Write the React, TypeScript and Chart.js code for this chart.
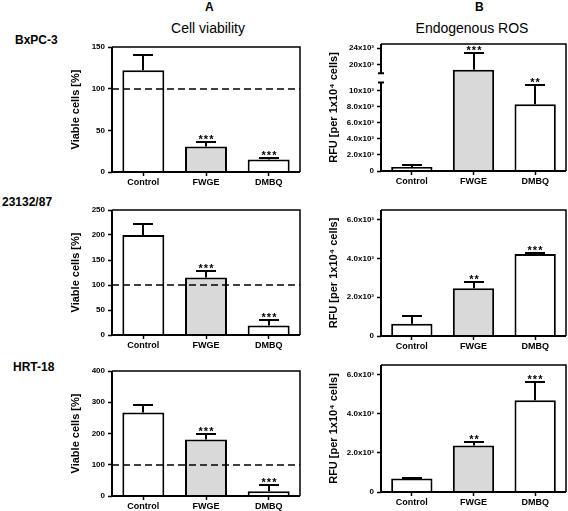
import React, { useEffect, useRef } from "react";
import { Chart, registerables, LinearScale } from "chart.js";

Chart.register(...registerables);

// ---------- data ----------
const CATEGORIES = ["Control", "FWGE", "DMBQ"];
const BAR_FILLS = ["#ffffff", "#d9d9d9", "#ffffff"];

// Column A: cell viability [%]
const VIAB_BXPC3 = [122, 30.5, 15];
const VIAB_BXPC3_ERR = [18, 5.5, 1.5];
const VIAB_23132 = [200, 115, 19];
const VIAB_23132_ERR = [22, 13, 11];
const VIAB_HRT18 = [267, 181, 15];
const VIAB_HRT18_ERR = [24, 19, 19];
const VIAB_STARS = ["", "***", "***"];
const VIAB_TICKS_BXPC3 = [0, 50, 100, 150];
const VIAB_TICKS_23132 = [0, 50, 100, 150, 200, 250];
const VIAB_TICKS_HRT18 = [0, 100, 200, 300, 400];
const VIAB_REFERENCE = 100;

// Column B: endogenous ROS [RFU per 1x10^4 cells]
const ROS_BXPC3 = [500, 18800, 8300];
const ROS_BXPC3_ERR = [200, 4150, 2400];
const ROS_BXPC3_STARS = ["", "***", "**"];
const ROS_23132 = [630, 2460, 4225];
const ROS_23132_ERR = [420, 350, 65];
const ROS_23132_STARS = ["", "**", "***"];
const ROS_HRT18 = [690, 2380, 4700];
const ROS_HRT18_ERR = [30, 185, 910];
const ROS_HRT18_STARS = ["", "**", "***"];

const ROS_TICKS_BROKEN = [0, 2000, 4000, 6000, 8000, 10000, 20000, 24000];
const ROS_TICK_LABELS_BROKEN = ["0", "2.0x10³", "4.0x10³", "6.0x10³", "8.0x10³", "10x10³", "20x10³", "24x10³"];
const ROS_TICKS = [0, 2000, 4000, 6000];
const ROS_TICK_LABELS = ["0", "2.0x10³", "4.0x10³", "6.0x10³"];

// broken axis (top right panel)
const BREAK_LOW = 11000;
const BREAK_HIGH = 18000;
const LOWER_FRACTION = 0.696;
const GAP_FRACTION = 0.074;

const FONT = "'Liberation Sans', Arial, Helvetica, sans-serif";

class BrokenLinearScale extends LinearScale {
  static id = "brokenLinear";
  static defaults = {};
  getPixelForValue(value: any) {
    if (value === null || value === undefined || isNaN(value)) return NaN;
    const min = this.min;
    const max = this.max;
    const upper = 1 - LOWER_FRACTION - GAP_FRACTION;
    let dec;
    if (value <= BREAK_LOW) dec = ((value - min) / (BREAK_LOW - min)) * LOWER_FRACTION;
    else if (value >= BREAK_HIGH) dec = LOWER_FRACTION + GAP_FRACTION + ((value - BREAK_HIGH) / (max - BREAK_HIGH)) * upper;
    else dec = LOWER_FRACTION + ((value - BREAK_LOW) / (BREAK_HIGH - BREAK_LOW)) * GAP_FRACTION;
    return this.getPixelForDecimal(dec);
  }
  getValueForPixel(pixel: number) {
    const dec = this.getDecimalForPixel(pixel);
    const upper = 1 - LOWER_FRACTION - GAP_FRACTION;
    if (dec <= LOWER_FRACTION) return this.min + (dec / LOWER_FRACTION) * (BREAK_LOW - this.min);
    if (dec >= LOWER_FRACTION + GAP_FRACTION)
      return BREAK_HIGH + ((dec - LOWER_FRACTION - GAP_FRACTION) / upper) * (this.max - BREAK_HIGH);
    return BREAK_LOW + ((dec - LOWER_FRACTION) / GAP_FRACTION) * (BREAK_HIGH - BREAK_LOW);
  }
}
Chart.register(BrokenLinearScale as any);

type PanelCfg = {
  area: { l: number; t: number; r: number; b: number };
  yWidth: number;
  titlePad: number;
  values: number[];
  errors: number[];
  stars: string[];
  ticks: number[];
  tickLabels?: string[];
  min: number;
  max: number;
  yTitle: string;
  refLine?: number;
  broken?: boolean;
};

const PANELS: PanelCfg[] = [
  { area: { l: 112, t: 47, r: 300, b: 172 }, yWidth: 60, titlePad: 17, values: VIAB_BXPC3, errors: VIAB_BXPC3_ERR, stars: VIAB_STARS, ticks: VIAB_TICKS_BXPC3, min: 0, max: 150, yTitle: "Viable cells [%]", refLine: VIAB_REFERENCE },
  { area: { l: 112, t: 210, r: 300, b: 335 }, yWidth: 60, titlePad: 17, values: VIAB_23132, errors: VIAB_23132_ERR, stars: VIAB_STARS, ticks: VIAB_TICKS_23132, min: 0, max: 250, yTitle: "Viable cells [%]", refLine: VIAB_REFERENCE },
  { area: { l: 112, t: 371, r: 300, b: 496 }, yWidth: 60, titlePad: 17, values: VIAB_HRT18, errors: VIAB_HRT18_ERR, stars: VIAB_STARS, ticks: VIAB_TICKS_HRT18, min: 0, max: 400, yTitle: "Viable cells [%]", refLine: VIAB_REFERENCE },
  { area: { l: 381, t: 44, r: 566, b: 171 }, yWidth: 70, titlePad: 16, values: ROS_BXPC3, errors: ROS_BXPC3_ERR, stars: ROS_BXPC3_STARS, ticks: ROS_TICKS_BROKEN, tickLabels: ROS_TICK_LABELS_BROKEN, min: 0, max: 25000, yTitle: "RFU [per 1x10⁴ cells]", broken: true },
  { area: { l: 381, t: 210, r: 566, b: 336 }, yWidth: 70, titlePad: 16, values: ROS_23132, errors: ROS_23132_ERR, stars: ROS_23132_STARS, ticks: ROS_TICKS, tickLabels: ROS_TICK_LABELS, min: 0, max: 6500, yTitle: "RFU [per 1x10⁴ cells]" },
  { area: { l: 381, t: 365, r: 566, b: 492 }, yWidth: 70, titlePad: 16, values: ROS_HRT18, errors: ROS_HRT18_ERR, stars: ROS_HRT18_STARS, ticks: ROS_TICKS, tickLabels: ROS_TICK_LABELS, min: 0, max: 6500, yTitle: "RFU [per 1x10⁴ cells]" },
];

const PAD_TOP = 10;
const PAD_RIGHT = 4;
const X_HEIGHT = 20;

function decorPlugin(p: PanelCfg) {
  return {
    id: "panelDecor",
    afterDatasetsDraw(chart: any) {
      const ctx = chart.ctx;
      const ys = chart.scales.y;
      const { left, right, top, bottom } = chart.chartArea;
      const meta = chart.getDatasetMeta(0);
      ctx.save();
      ctx.strokeStyle = "#000";
      ctx.fillStyle = "#000";
      if (p.refLine !== undefined) {
        const y = Math.round(ys.getPixelForValue(p.refLine));
        ctx.setLineDash([7, 4]);
        ctx.lineWidth = 1.5;
        ctx.beginPath();
        ctx.moveTo(left, y);
        ctx.lineTo(right, y);
        ctx.stroke();
        ctx.setLineDash([]);
      }
      meta.data.forEach((bar: any, i: number) => {
        const v = p.values[i];
        const e = p.errors[i];
        const x = Math.round(bar.x);
        const yTop = ys.getPixelForValue(v);
        const yErr = Math.round(ys.getPixelForValue(v + e));
        ctx.lineWidth = 2;
        ctx.beginPath();
        ctx.moveTo(x, yTop);
        ctx.lineTo(x, yErr);
        ctx.moveTo(x - 10, yErr);
        ctx.lineTo(x + 10, yErr);
        ctx.stroke();
        if (p.stars[i]) {
          ctx.font = `bold 11px ${FONT}`;
          try {
            (ctx as any).letterSpacing = "1px";
          } catch (err) {}
          ctx.textAlign = "center";
          ctx.textBaseline = "alphabetic";
          ctx.fillText(p.stars[i], x + 0.5, yErr + 0.5);
          try {
            (ctx as any).letterSpacing = "0px";
          } catch (err) {}
        }
      });
      // frame
      ctx.lineWidth = 1.5;
      ctx.beginPath();
      ctx.moveTo(left, top);
      ctx.lineTo(right, top);
      ctx.lineTo(right, bottom);
      ctx.stroke();
      ctx.lineWidth = 2;
      ctx.beginPath();
      ctx.moveTo(left, bottom);
      ctx.lineTo(right, bottom);
      ctx.stroke();
      ctx.beginPath();
      if (p.broken) {
        const yl = ys.getPixelForValue(BREAK_LOW);
        const yh = ys.getPixelForValue(BREAK_HIGH);
        ctx.moveTo(left, bottom);
        ctx.lineTo(left, yl);
        ctx.moveTo(left - 3, yl);
        ctx.lineTo(left + 3, yl);
        ctx.moveTo(left - 3, yh);
        ctx.lineTo(left + 3, yh);
        ctx.moveTo(left, yh);
        ctx.lineTo(left, top);
      } else {
        ctx.moveTo(left, bottom + 1);
        ctx.lineTo(left, top);
      }
      ctx.stroke();
      ctx.restore();
    },
  };
}

function Panel({ p }: { p: PanelCfg }) {
  const ref = useRef<HTMLCanvasElement | null>(null);
  const w = p.area.r - p.area.l + p.yWidth + PAD_RIGHT;
  const h = p.area.b - p.area.t + PAD_TOP + X_HEIGHT;
  useEffect(() => {
    if (!ref.current) return;
    const chart = new Chart(ref.current, {
      type: "bar",
      data: {
        labels: CATEGORIES,
        datasets: [
          {
            data: p.values,
            backgroundColor: BAR_FILLS,
            borderColor: "#000",
            borderWidth: 2,
            borderSkipped: "start",
            barPercentage: 0.67,
            categoryPercentage: 1,
          },
        ],
      },
      options: {
        animation: false,
        responsive: false,
        maintainAspectRatio: false,
        layout: { padding: { top: PAD_TOP, right: PAD_RIGHT, left: 0, bottom: 0 } },
        plugins: { legend: { display: false }, tooltip: { enabled: false }, title: { display: false } },
        scales: {
          x: {
            type: "category",
            afterFit: (s: any) => {
              s.height = X_HEIGHT;
            },
            border: { display: false },
            grid: { display: true, drawOnChartArea: false, drawTicks: true, tickLength: 4, tickColor: "#000", tickWidth: 1.5, offset: false },
            ticks: { color: "#000", font: { family: FONT, size: 9, weight: "bold" }, padding: 1, maxRotation: 0, autoSkip: false },
          },
          y: {
            type: p.broken ? "brokenLinear" : "linear",
            min: p.min,
            max: p.max,
            afterFit: (s: any) => {
              s.width = p.yWidth;
            },
            afterBuildTicks: (s: any) => {
              s.ticks = p.ticks.map((v) => ({ value: v }));
            },
            border: { display: false },
            grid: { display: true, drawOnChartArea: false, drawTicks: true, tickLength: 4, tickColor: "#000", tickWidth: 1.5 },
            ticks: {
              color: "#000",
              autoSkip: false,
              padding: 3,
              font: { family: FONT, size: 8, weight: "bold" },
              callback: (val: any, idx: number) => (p.tickLabels ? p.tickLabels[idx] : String(p.ticks[idx])),
            },
            title: {
              display: true,
              text: p.yTitle,
              color: "#000",
              font: { family: FONT, size: 11, weight: "bold" },
              padding: { top: p.titlePad, bottom: 0 },
            },
          },
        },
      } as any,
      plugins: [decorPlugin(p)],
    });
    return () => chart.destroy();
  }, []);
  return (
    <canvas
      ref={ref}
      width={w}
      height={h}
      style={{ position: "absolute", left: p.area.l - p.yWidth, top: p.area.t - PAD_TOP, width: w, height: h }}
    />
  );
}

const textBase: React.CSSProperties = {
  position: "absolute",
  fontFamily: FONT,
  color: "#000",
  lineHeight: 1,
  whiteSpace: "nowrap",
};

export default function App() {
  return (
    <div style={{ position: "absolute", left: 0, top: 0, width: 568, height: 511, background: "#fff", overflow: "hidden" }}>
      <div style={{ ...textBase, left: 205, top: 1, fontSize: 12, fontWeight: "bold" }}>A</div>
      <div style={{ ...textBase, left: 475, top: 1, fontSize: 12, fontWeight: "bold" }}>B</div>
      <div style={{ ...textBase, left: 108, width: 200, top: 21, fontSize: 14, textAlign: "center" }}>Cell viability</div>
      <div style={{ ...textBase, left: 372, width: 200, top: 21, fontSize: 14, textAlign: "center" }}>Endogenous ROS</div>
      <div style={{ ...textBase, left: 15, top: 34, fontSize: 12, fontWeight: "bold" }}>BxPC-3</div>
      <div style={{ ...textBase, left: 2, top: 196, fontSize: 12, fontWeight: "bold" }}>23132/87</div>
      <div style={{ ...textBase, left: 13, top: 361, fontSize: 12, fontWeight: "bold" }}>HRT-18</div>
      {PANELS.map((p, i) => (
        <Panel key={i} p={p} />
      ))}
    </div>
  );
}
